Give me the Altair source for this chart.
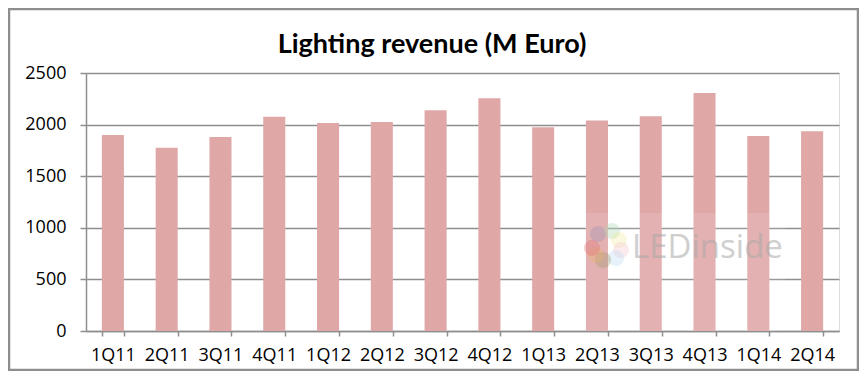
import altair as alt
import pandas as pd

quarters = ["1Q11", "2Q11", "3Q11", "4Q11", "1Q12", "2Q12", "3Q12", "4Q12",
            "1Q13", "2Q13", "3Q13", "4Q13", "1Q14", "2Q14"]
revenue = [1900, 1775, 1880, 2075, 2015, 2025, 2140, 2255,
           1975, 2040, 2080, 2305, 1890, 1935]
y_ticks = [0, 500, 1000, 1500, 2000, 2500]
title_text = "Lighting revenue (M Euro)"

# decorative watermark logo petals (pixel offsets within the plot area)
petal_x = [512, 526, 533, 535, 530, 517, 510, 506]
petal_y = [161, 158, 167, 177, 185, 187, 182, 175]
petal_c = ["#9b8fb5", "#a8d8b0", "#f2eaa0", "#f4c6cf", "#b9d9f0",
           "#9e9a70", "#e9b36a", "#e07070"]

df = pd.DataFrame({"quarter": quarters, "revenue": revenue})
one = pd.DataFrame({"k": [0]})
petals = pd.DataFrame({"px": petal_x, "py": petal_y, "c": petal_c})

W, H = 753, 258
GRAY = "#8e8e8e"
FONT = "Open Sans"

bars = alt.Chart(df).mark_bar(color="#e0a7a7").encode(
    x=alt.X("quarter:N", sort=quarters,
            scale=alt.Scale(paddingInner=0.59, paddingOuter=0.295),
            axis=alt.Axis(title=None, labelAngle=0, tickBand="extent",
                          labelFont=FONT, labelFontSize=18, labelColor="#000",
                          labelPadding=10, tickSize=5, tickColor=GRAY,
                          tickWidth=1.5, domainColor=GRAY, domainWidth=1.5,
                          grid=False)),
    y=alt.Y("revenue:Q", scale=alt.Scale(domain=[0, 2500], nice=False),
            axis=alt.Axis(title=None, values=y_ticks, format="d",
                          labelFont=FONT, labelFontSize=18, labelColor="#000",
                          labelPadding=14, tickSize=6, tickColor=GRAY,
                          tickWidth=1.5, domainColor=GRAY, domainWidth=1.5,
                          grid=True, gridColor=GRAY, gridWidth=1.5)),
)

veil = alt.Chart(one).mark_rect(color="white", opacity=0.12).encode(
    x=alt.value(499), x2=alt.value(699), y=alt.value(140), y2=alt.value(258)
)
logo = alt.Chart(petals).mark_circle(size=260, opacity=0.35).encode(
    x=alt.X("px:Q", scale=None), y=alt.Y("py:Q", scale=None),
    color=alt.Color("c:N", scale=None),
)
wm_text = alt.Chart(one).mark_text(
    text="LEDinside", font=FONT, fontSize=33, color="#a8a8a8", opacity=0.55,
    align="left", baseline="middle"
).encode(x=alt.value(546), y=alt.value(175))

title = alt.Chart(one).mark_text(
    text=title_text, font="Lato", fontSize=27, fontWeight="bold", color="#000",
    align="center", baseline="middle"
).encode(x=alt.value(346), y=alt.value(-28))

frame = alt.Chart(one).mark_rect(fill=None, stroke=GRAY, strokeWidth=2.5).encode(
    x=alt.value(-77), x2=alt.value(772), y=alt.value(-64), y2=alt.value(297)
)

chart = alt.layer(bars, veil, logo, wm_text, title, frame).properties(
    width=W, height=H,
    autosize=alt.AutoSizeParams(type="none"),
    padding={"left": 78, "top": 65, "right": 20, "bottom": 40},
).configure_view(stroke=None).configure(background="white")

chart.save("out.html", embed_options={"renderer": "svg", "actions": False})
